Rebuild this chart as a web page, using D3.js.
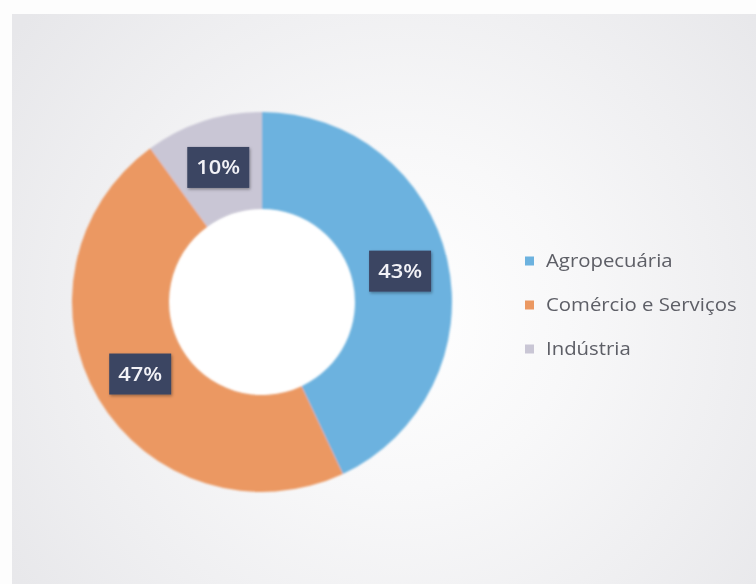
<!DOCTYPE html>
<html>
<head>
<meta charset="utf-8">
<script src="https://cdn.jsdelivr.net/npm/d3@7"></script>
<style>
  html, body { margin: 0; padding: 0; background: #ffffff; }
  svg { display: block; }
</style>
</head>
<body>
<svg id="chart" width="756" height="584"></svg>
<script>
// Participação por setor (%)
const categories = ["Agropecuária", "Comércio e Serviços", "Indústria"];
const shares = [43, 47, 10];
const colors = ["#6cb2df", "#eb9862", "#c9c6d5"];

const W = 756, H = 584;
const svg = d3.select("#chart");
const defs = svg.append("defs");

// panel background: pale grey with a soft light glow behind the chart
const bg = defs.append("radialGradient")
  .attr("id", "panelGlow")
  .attr("gradientUnits", "userSpaceOnUse")
  .attr("cx", 400).attr("cy", 320).attr("r", 480);
bg.append("stop").attr("offset", "0").attr("stop-color", "#ffffff");
bg.append("stop").attr("offset", "0.35").attr("stop-color", "#f8f8f9");
bg.append("stop").attr("offset", "1").attr("stop-color", "#e7e7ea");

const shadow = defs.append("filter").attr("id", "boxShadow")
  .attr("x", "-20%").attr("y", "-20%").attr("width", "140%").attr("height", "150%");
shadow.append("feDropShadow").attr("dx", 1).attr("dy", 1.5)
  .attr("stdDeviation", 1.5).attr("flood-color", "#000").attr("flood-opacity", 0.35);

const soft = defs.append("filter").attr("id", "soft");
soft.append("feGaussianBlur").attr("stdDeviation", 0.8);

const softText = defs.append("filter").attr("id", "softText");
softText.append("feGaussianBlur").attr("stdDeviation", 0.45);

svg.append("rect").attr("x", 0).attr("y", 0).attr("width", W).attr("height", H)
  .attr("fill", "#fdfdfd");
svg.append("rect").attr("x", 12).attr("y", 14).attr("width", W - 12).attr("height", H - 14)
  .attr("fill", "url(#panelGlow)");

// donut
const cx = 262, cy = 302;
const outerR = 190, innerR = 93;

const pie = d3.pie().sort(null).value(d => d)
  .startAngle(0).endAngle(2 * Math.PI);
const arcs = pie(shares);
const arc = d3.arc().innerRadius(innerR).outerRadius(outerR);
const color = d3.scaleOrdinal().domain(categories).range(colors);

const g = svg.append("g").attr("transform", `translate(${cx},${cy})`);

// white hole in the middle
g.append("circle").attr("r", innerR).attr("fill", "#ffffff");

g.append("g").attr("filter", "url(#soft)")
  .selectAll("path")
  .data(arcs)
  .join("path")
  .attr("d", arc)
  .attr("fill", (d, i) => color(categories[i]));

// data labels in dark boxes at each slice centroid
const boxW = 62, boxH = 41;
const labels = g.selectAll("g.lbl")
  .data(arcs)
  .join("g")
  .attr("class", "lbl")
  .attr("transform", d => {
    const [x, y] = arc.centroid(d);
    return `translate(${x},${y})`;
  });

labels.append("rect")
  .attr("x", -boxW / 2).attr("y", -boxH / 2)
  .attr("width", boxW).attr("height", boxH)
  .attr("fill", "#3b4562")
  .attr("filter", "url(#boxShadow)");

labels.append("text")
  .attr("text-anchor", "middle")
  .attr("dy", "0.36em")
  .attr("transform", "scale(1.15,1)")
  .attr("font-family", "'Open Sans', Lato, sans-serif")
  .attr("font-size", 19)
  .attr("font-weight", 600)
  .attr("fill", "#f2f2f7")
  .attr("filter", "url(#softText)")
  .text(d => d.data + "%");

// legend
const legend = svg.append("g").attr("transform", "translate(525,0)");
const rowY = d3.scalePoint().domain(categories).range([261, 349]);

const item = legend.selectAll("g")
  .data(categories)
  .join("g")
  .attr("transform", d => `translate(0,${rowY(d)})`);

item.append("rect")
  .attr("x", 0).attr("y", -4.5)
  .attr("width", 9).attr("height", 9)
  .attr("fill", d => color(d));

item.append("text")
  .attr("transform", "translate(21,0) scale(1.1,1)")
  .attr("dy", "0.35em")
  .attr("font-family", "'Open Sans', Lato, sans-serif")
  .attr("font-size", 18.5)
  .attr("fill", "#5d5e66")
  .attr("filter", "url(#softText)")
  .text(d => d);
</script>
</body>
</html>
